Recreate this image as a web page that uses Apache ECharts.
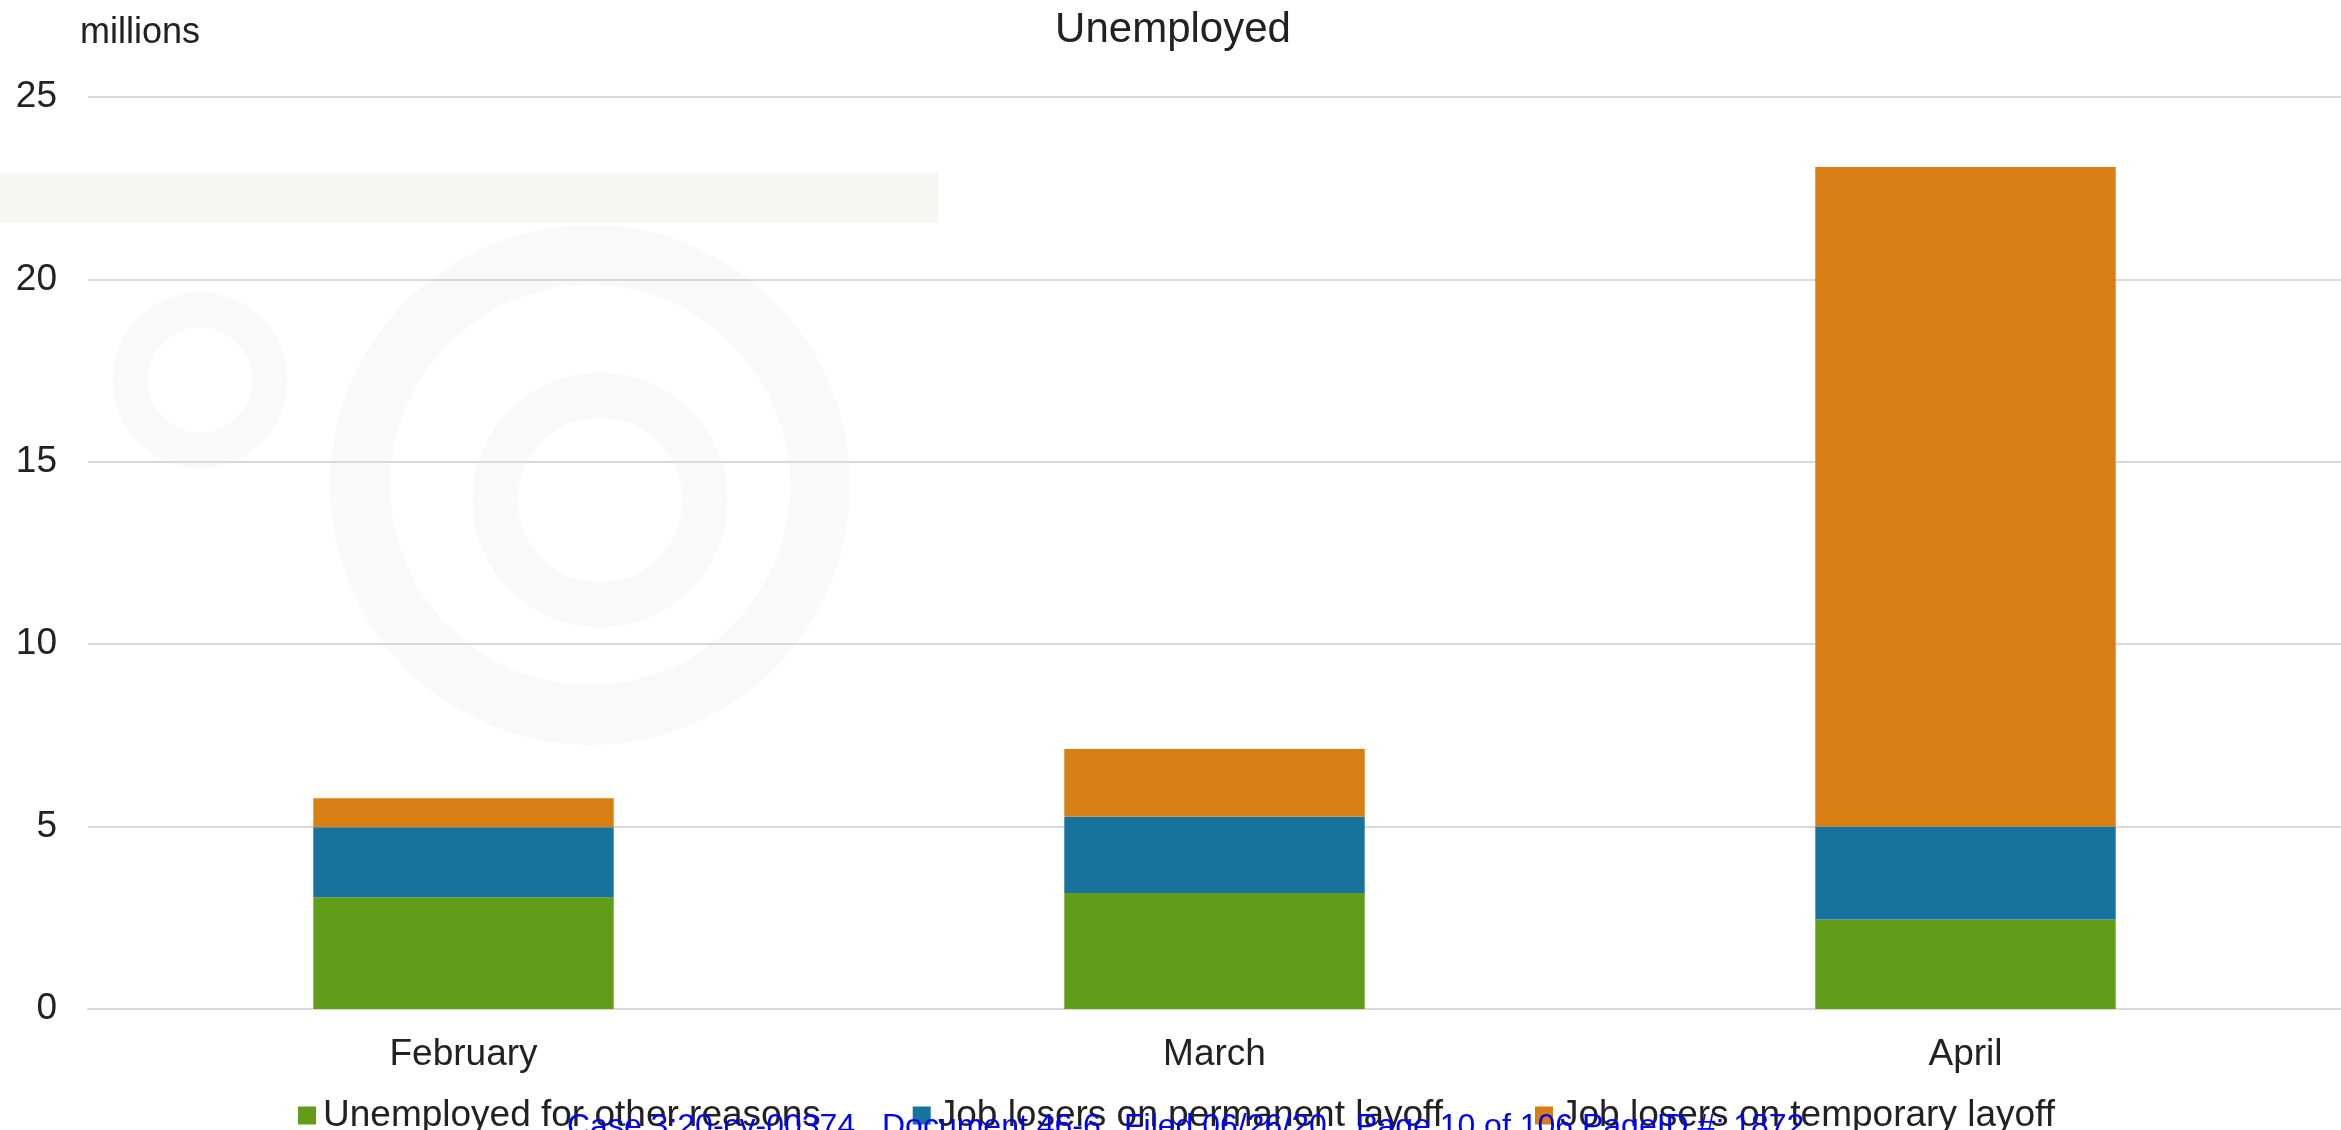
<!DOCTYPE html>
<html>
<head>
<meta charset="utf-8">
<title>Unemployed</title>
<script src="https://cdn.jsdelivr.net/npm/echarts@6/dist/echarts.min.js"></script>
<style>
  html, body { margin: 0; padding: 0; background: #ffffff; }
  #chart { width: 2341px; height: 1130px; }
</style>
</head>
<body>
<div id="chart"></div>
<script>
// Months shown on the category axis
const months = ['February', 'March', 'April'];

// Unemployed persons by reason, millions
const otherReasons = [3.06, 3.18, 2.45];
const permanentLayoff = [1.92, 2.09, 2.55];
const temporaryLayoff = [0.80, 1.86, 18.08];

// Value axis ticks
const yTicks = [0, 5, 10, 15, 20, 25];

const seriesNames = [
  'Unemployed for other reasons',
  'Job losers on permanent layoff',
  'Job losers on temporary layoff'
];
const seriesColors = ['#629d1a', '#17729e', '#d97e12'];
const seriesData = [otherReasons, permanentLayoff, temporaryLayoff];

// Court filing stamp along the bottom edge
const stampParts = [
  { text: 'Case 3:20-cv-00374', x: 567 },
  { text: 'Document 46-6', x: 882 },
  { text: 'Filed 06/26/20', x: 1124 },
  { text: 'Page 10 of 106 PageID #: 1872', x: 1356 }
];

const FONT = '"Liberation Sans", Arial, sans-serif';
const INK = '#222222';
const BAND = '#f6f6f3';
const WASH = '#f9f9f7';

// Faint ornamental print behind the plot
const ornament = [
  { type: 'rect', shape: { x: 0, y: 173, width: 938, height: 50 }, style: { fill: BAND } },
  { type: 'arc', shape: { cx: 590, cy: 485, r: 230, startAngle: 0, endAngle: Math.PI * 2 }, style: { stroke: WASH, lineWidth: 60, fill: null } },
  { type: 'arc', shape: { cx: 600, cy: 500, r: 105, startAngle: 0, endAngle: Math.PI * 2 }, style: { stroke: WASH, lineWidth: 45, fill: null } },
  { type: 'arc', shape: { cx: 200, cy: 380, r: 70, startAngle: 0, endAngle: Math.PI * 2 }, style: { stroke: WASH, lineWidth: 35, fill: null } }
].map(g => Object.assign({ z: -10, silent: true }, g));

const stampGraphics = stampParts.map(p => ({
  type: 'text',
  x: p.x,
  y: 1111,
  z: 100,
  style: { text: p.text, font: '32px ' + FONT, fill: '#0000ff', verticalAlign: 'top' }
}));

const chart = echarts.init(document.getElementById('chart'), null, { renderer: 'canvas' });

chart.setOption({
  backgroundColor: '#ffffff',
  animation: false,
  title: [
    {
      text: 'Unemployed',
      left: 1168,
      textAlign: 'center',
      top: 4,
      textStyle: { fontFamily: FONT, fontSize: 42, fontWeight: 'normal', color: INK }
    },
    {
      text: 'millions',
      left: 75,
      top: 10,
      textStyle: { fontFamily: FONT, fontSize: 36, fontWeight: 'normal', color: INK }
    }
  ],
  graphic: ornament.concat(stampGraphics),
  legend: {
    left: 293,
    top: 1092,
    itemWidth: 18,
    itemHeight: 18,
    itemGap: 92,
    icon: 'rect',
    textStyle: { fontFamily: FONT, fontSize: 37, color: INK, padding: [0, 0, 0, 2] },
    data: seriesNames
  },
  grid: { left: 88, right: 0, top: 97, bottom: 121, containLabel: false },
  xAxis: {
    type: 'category',
    data: months,
    axisLine: { show: true, lineStyle: { color: '#d9d9d9', width: 2 } },
    axisTick: { show: false },
    axisLabel: { fontFamily: FONT, fontSize: 37, color: INK, margin: 27 }
  },
  yAxis: {
    type: 'value',
    min: yTicks[0],
    max: yTicks[yTicks.length - 1],
    interval: yTicks[1] - yTicks[0],
    axisLine: { show: false },
    axisTick: { show: false },
    splitLine: { lineStyle: { color: '#d9d9d9', width: 2 } },
    axisLabel: { fontFamily: FONT, fontSize: 37, color: INK, margin: 31 }
  },
  series: seriesData.map((d, i) => ({
    name: seriesNames[i],
    type: 'bar',
    stack: 'total',
    barWidth: '40%',
    itemStyle: { color: seriesColors[i] },
    data: d
  }))
});
</script>
</body>
</html>
